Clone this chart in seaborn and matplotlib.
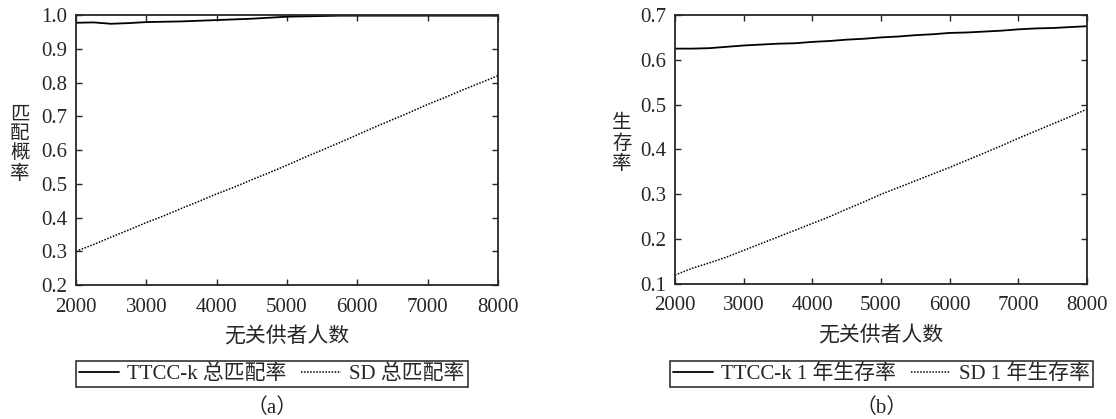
import numpy as np
import pandas as pd
import seaborn as sns
import matplotlib
matplotlib.use("Agg")
import matplotlib.pyplot as plt
from matplotlib.lines import Line2D

sns.set_style("ticks")
plt.rcParams['font.family'] = ['Liberation Serif', 'Noto Sans CJK SC']

donors = [2000, 2250, 2500, 2750, 3000, 3250, 3500, 3750, 4000, 4250, 4500, 4750,
          5000, 5250, 5500, 5750, 6000, 6250, 6500, 6750, 7000, 7250, 7500, 7750, 8000]

ttcc_match = [0.977, 0.978, 0.974, 0.976, 0.979, 0.980, 0.981, 0.983, 0.985, 0.987, 0.989, 0.992,
              0.995, 0.996, 0.997, 0.998, 0.998, 0.998, 0.998, 0.998, 0.998, 0.998, 0.998, 0.998, 0.998]
sd_match = [0.300, 0.320, 0.342, 0.363, 0.385, 0.405, 0.427, 0.448, 0.470, 0.490, 0.512, 0.533,
            0.555, 0.578, 0.600, 0.622, 0.645, 0.668, 0.690, 0.712, 0.735, 0.756, 0.778, 0.799, 0.820]

ttcc_surv = [0.625, 0.625, 0.626, 0.629, 0.632, 0.634, 0.636, 0.637, 0.640, 0.642, 0.645, 0.647,
             0.650, 0.652, 0.655, 0.657, 0.660, 0.661, 0.663, 0.665, 0.668, 0.670, 0.671, 0.673, 0.675]
sd_surv = [0.120, 0.135, 0.147, 0.160, 0.175, 0.190, 0.205, 0.220, 0.235, 0.250, 0.267, 0.283,
           0.300, 0.315, 0.330, 0.345, 0.360, 0.376, 0.392, 0.408, 0.425, 0.441, 0.457, 0.473, 0.490]

xticks = [2000, 3000, 4000, 5000, 6000, 7000, 8000]
left_yticks = [0.2, 0.3, 0.4, 0.5, 0.6, 0.7, 0.8, 0.9, 1.0]
right_yticks = [0.1, 0.2, 0.3, 0.4, 0.5, 0.6, 0.7]

fig = plt.figure(figsize=(11.16, 4.19), dpi=100)
ax1 = fig.add_axes([0.0681, 0.3198, 0.3781, 0.6444])
ax2 = fig.add_axes([0.6048, 0.3222, 0.3692, 0.6420])

FS = 15

def draw(ax, a, b, yticks, ylabel, lab_a, lab_b, panel, leg_x, ylab_x):
    df = pd.DataFrame({"x": donors, "a": a, "b": b})
    sns.lineplot(data=df, x="x", y="a", ax=ax, color="black", linewidth=1.3, linestyle="-")
    sns.lineplot(data=df, x="x", y="b", ax=ax, color="black", linewidth=1.1, linestyle=(0, (1, 1)))
    ax.set_xlim(2000, 8000)
    ax.set_ylim(yticks[0], yticks[-1])
    ax.set_xticks(xticks)
    ax.set_yticks(yticks)
    ax.set_xticklabels([str(t) for t in xticks], fontsize=FS)
    ax.set_yticklabels([f"{t:.1f}" for t in yticks], fontsize=FS)
    ax.tick_params(direction="in", top=True, right=True, length=4, width=1)
    ax.tick_params(axis="y", pad=6)
    ax.tick_params(axis="x", pad=9)
    for s in ax.spines.values():
        s.set_linewidth(1.3)
        s.set_visible(True)
    ax.set_xlabel("无关供者人数", fontsize=FS, labelpad=8)
    ax.set_ylabel(ylabel, fontsize=14, rotation=0, va="center", ha="center",
                  linespacing=1.15)
    ax.yaxis.set_label_coords(ylab_x, 0.52)
    handles = [Line2D([], [], color="black", lw=1.3, ls="-"),
               Line2D([], [], color="black", lw=1.1, ls=(0, (1, 1)))]
    leg = fig.legend(handles, [lab_a, lab_b], loc="center", bbox_to_anchor=(leg_x, 0.1074),
                     ncol=2, frameon=True, fancybox=False, fontsize=15, handlelength=1.9,
                     handletextpad=0.4, columnspacing=0.7, borderpad=0.15, borderaxespad=0)
    leg.get_frame().set_edgecolor("black")
    leg.get_frame().set_linewidth(1.2)
    fig.text(leg_x, 0.026, panel, ha="center", va="center", fontsize=15)

draw(ax1, ttcc_match, sd_match, left_yticks, "匹\n配\n概\n率",
     "TTCC-k 总匹配率", "SD 总匹配率", "（a）", 0.2437, -0.133)
draw(ax2, ttcc_surv, sd_surv, right_yticks, "生\n存\n率",
     "TTCC-k 1 年生存率", "SD 1 年生存率", "（b）", 0.7899, -0.129)

fig.savefig("out.png", dpi=100)
